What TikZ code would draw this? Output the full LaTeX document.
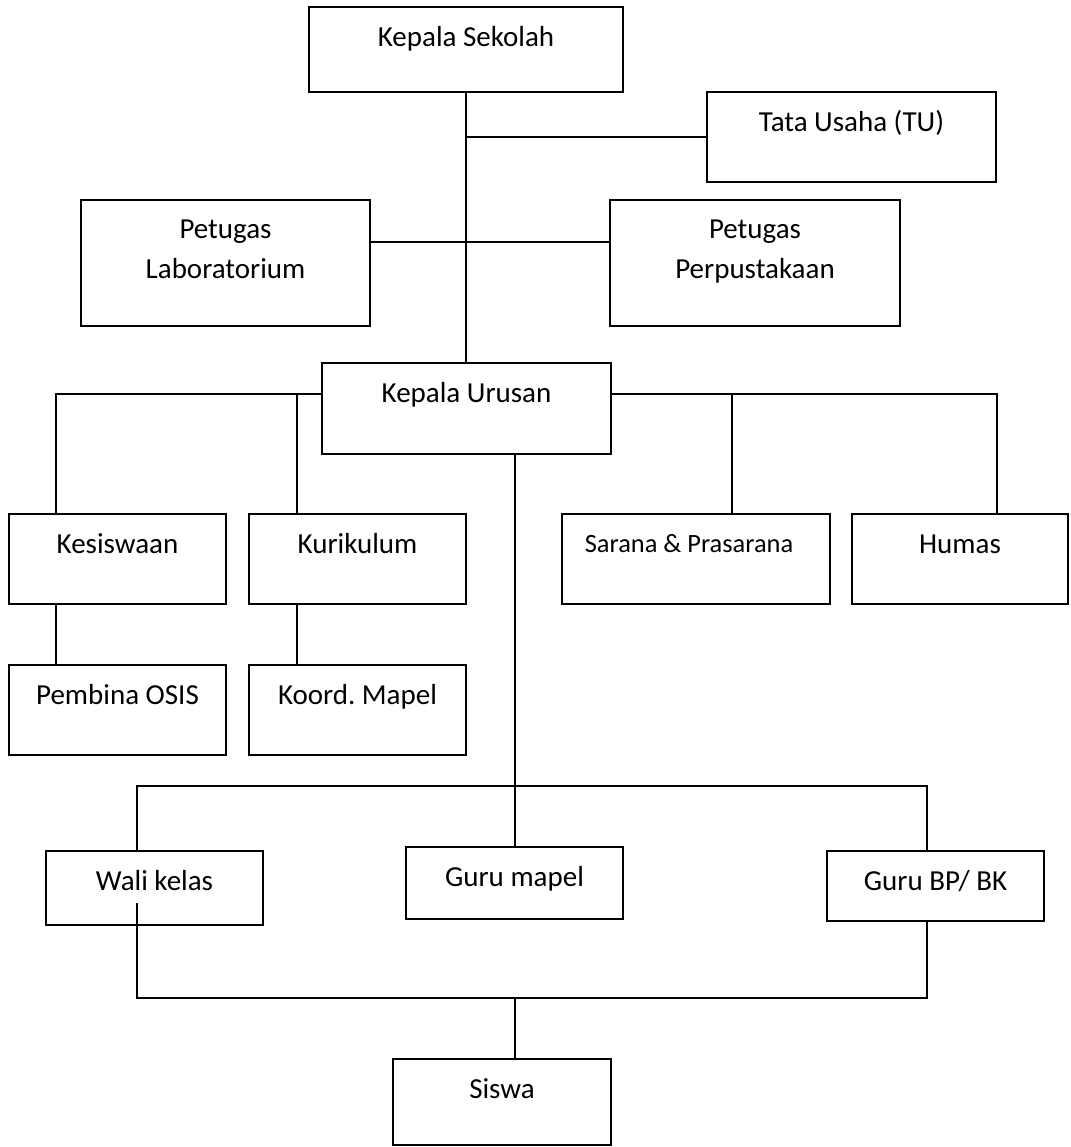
\documentclass[tikz,border=0pt]{standalone}
\usepackage{fontspec}
\setmainfont{Carlito}
\usetikzlibrary{positioning,calc}

\begin{document}
\begin{tikzpicture}[x=1pt,y=-1pt,
  font=\fontsize{29}{40}\selectfont,
  % one box per office, text sits at the top of the box
  unit/.style={draw,line width=2pt,inner sep=0pt,minimum width=217pt,minimum height=90pt},
  ttl/.style={label={[anchor=north,yshift=-20pt,inner sep=0pt,text height=20pt]north:#1}},
  ttltwo/.style={label={[anchor=north,yshift=-21pt,inner sep=0pt,align=center]north:#1}},
  link/.style={line width=2pt},
]
\useasboundingbox (0,0) rectangle (1070,1147);

% =========== head of school and staff ======================================
\node[unit,minimum width=314pt,minimum height=85pt,ttl={Kepala Sekolah}] (kepsek) at (466,49.5) {};
\node[unit,minimum width=289pt,ttl={Tata Usaha (TU)}] (tu) at (851.5,137) {};
\node[unit,minimum width=289pt,minimum height=126pt,ttltwo={Petugas\\Laboratorium}] (lab) at (225.5,263) {};
\node[unit,minimum width=290pt,minimum height=126pt,ttltwo={Petugas\\Perpustakaan}] (perpus) at (755,263) {};
\node[unit,minimum width=289pt,minimum height=91pt,ttl={Kepala Urusan}] (kaur) at (466.5,408.5) {};

\coordinate (jstaf) at (466,242);
\draw[link] (kepsek.south) -- (kepsek.south |- kaur.north);
\draw[link] (tu.west) -- (tu.west -| kepsek.south);
\draw[link] (lab.east |- jstaf) -- (perpus.west |- jstaf);

% =========== the four urusan ==============================================
\node[unit,ttl=Kesiswaan] (kesis) at (117.5,559) {};
\node[unit,ttl=Kurikulum] (kurik) at (357.5,559) {};
\node[unit,minimum width=268pt,
  label={[anchor=north,yshift=-21pt,xshift=-7pt,inner sep=0pt,text height=18pt,
  font=\fontsize{26.4}{36}\selectfont]north:Sarana \& Prasarana}] (sarpras) at (696,559) {};
\node[unit,minimum width=216pt,ttl=Humas] (humas) at (960,559) {};
\node[unit,ttl={Pembina OSIS}] (osis) at (117.5,710) {};
\node[unit,ttl={Koord.\ Mapel}] (mapel) at (357.5,710) {};

\coordinate (busA) at (0,394);
\coordinate (dKesis) at ($(kesis.north west)!.22!(kesis.north east)$);
\coordinate (dKurik) at ($(kurik.north west)!.226!(kurik.north east)$);
\coordinate (dSarpras) at ($(sarpras.north west)!.635!(sarpras.north east)$);
\coordinate (dHumas) at ($(humas.north west)!.67!(humas.north east)$);
\draw[link] (kaur.west |- busA) -| (dKesis);
\draw[link] (dKurik) -- (dKurik |- busA);
\draw[link] (kaur.east |- busA) -| (dHumas);
\draw[link] (dSarpras) -- (dSarpras |- busA);
\draw[link] (dKesis |- kesis.south) -- (dKesis |- osis.north);
\draw[link] (dKurik |- kurik.south) -- (dKurik |- mapel.north);

% =========== teachers and students ========================================
\node[unit,minimum height=74pt,ttl={Wali kelas}] (wali) at (154.5,888) {};
\node[unit,minimum height=72pt,ttl={Guru mapel}] (gurumapel) at (514.5,883) {};
\node[unit,minimum height=70pt,ttl={Guru BP/ BK}] (bk) at (935.5,886) {};
\node[unit,minimum width=218pt,minimum height=86pt,ttl=Siswa] (siswa) at (502,1102) {};

\coordinate (busB) at (0,786);
\coordinate (busC) at (0,998);
\coordinate (dWali) at ($(wali.north west)!.42!(wali.north east)$);
\coordinate (dBK) at ($(bk.north west)!.46!(bk.north east)$);
\coordinate (wStart) at ($(dWali)!.7!(dWali |- wali.south)$);
\draw[link] (gurumapel.north |- kaur.south) -- (gurumapel.north);
\draw[link] (dWali) |- (dBK |- busB) -- (dBK);
\draw[link] (wStart) |- (dBK |- busC) -- (dBK |- bk.south);
\draw[link] (gurumapel.south |- busC) -- (gurumapel.south |- siswa.north);

\end{tikzpicture}
\end{document}
